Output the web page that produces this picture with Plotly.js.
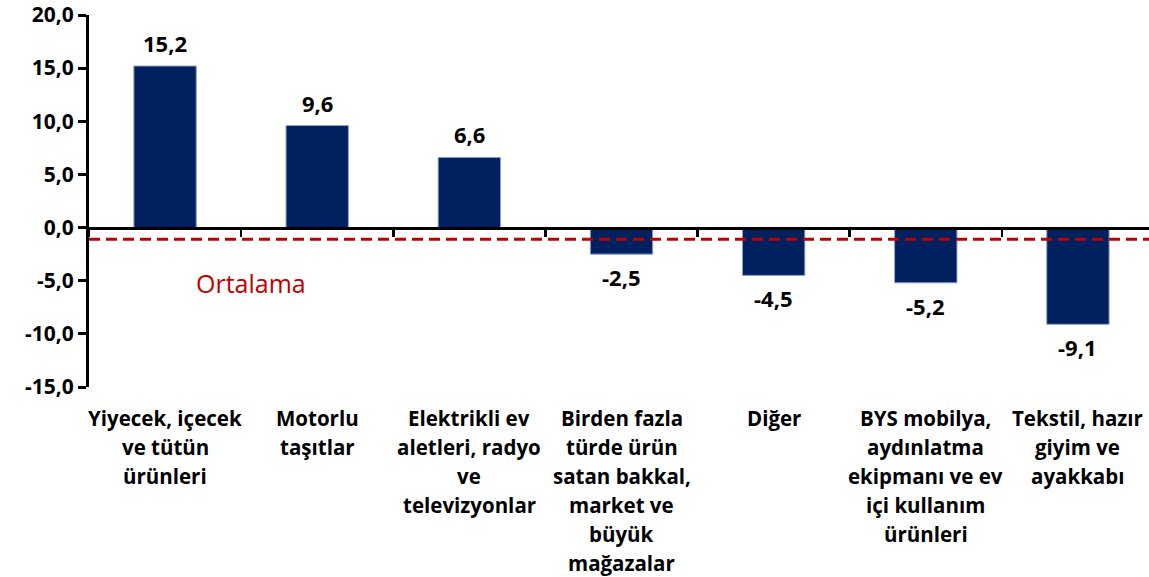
<!DOCTYPE html>
<html><head><meta charset="utf-8">
<script src="https://cdn.plot.ly/plotly-3.0.1.min.js"></script>
<style>html,body{margin:0;padding:0;overflow:hidden;background:#fff}</style>
</head><body><div id="chart" style="width:1154px;height:577px"></div>
<script>
// ---- data ----
const categoryLines = [
  ["Yiyecek, içecek", "ve tütün", "ürünleri"],
  ["Motorlu", "taşıtlar"],
  ["Elektrikli ev", "aletleri, radyo", "ve", "televizyonlar"],
  ["Birden fazla", "türde ürün", "satan bakkal,", "market ve", "büyük", "mağazalar"],
  ["Diğer"],
  ["BYS mobilya,", "aydınlatma", "ekipmanı ve ev", "içi kullanım", "ürünleri"],
  ["Tekstil, hazır", "giyim ve", "ayakkabı"]
];
const categories = categoryLines.map(l => l.join(" "));
const values = [15.2, 9.6, 6.6, -2.5, -4.5, -5.2, -9.1];
const averageValue = -1.1;
const averageLabel = "Ortalama";
const yTickValues = [-15, -10, -5, 0, 5, 10, 15, 20];

// ---- helpers ----
const fmt = v => v.toFixed(1).replace(".", ",");
const FONT = "'Open Sans', Lato, sans-serif";
const yMin = -15, yMax = 20;

const traces = [
  {
    type: "bar", x: categories, y: values,
    marker: {color: "#002060", line: {color: "#8fa2c4", width: 1}},
    hoverinfo: "skip", xaxis: "x", yaxis: "y"
  },
  {
    type: "scatter", mode: "none", x: categories, y: values,
    xaxis: "x2", yaxis: "y", hoverinfo: "skip", showlegend: false
  }
];

const annotations = [];
values.forEach((v, i) => {
  annotations.push({
    x: categories[i], y: v, xref: "x", yref: "y",
    text: fmt(v), showarrow: false,
    yanchor: v >= 0 ? "bottom" : "top",
    yshift: v >= 0 ? 6 : -6,
    font: {family: FONT, size: 22, color: "#000", weight: "bold"}
  });
});
categoryLines.forEach((lines, i) => {
  lines.forEach((line, j) => {
    annotations.push({
      x: categories[i], y: 0, xref: "x", yref: "paper",
      text: line, showarrow: false, yanchor: "middle",
      yshift: -31 - 29 * j,
      font: {family: FONT, size: 20.5, color: "#000", weight: "bold"}
    });
  });
});
annotations.push({
  x: 0.565, y: -5.2, xref: "x", yref: "y", text: averageLabel, showarrow: false,
  font: {family: FONT, size: 25, color: "#C00000"}
});

const layout = {
  width: 1154, height: 577,
  margin: {l: 89, r: 0, t: 15, b: 190},
  paper_bgcolor: "#fff", plot_bgcolor: "#fff",
  showlegend: false, bargap: 0.59,
  font: {family: FONT, color: "#000"},
  xaxis: {
    type: "category", range: [-0.5, 6.5], showticklabels: false,
    showline: false, ticks: "", showgrid: false, zeroline: false, fixedrange: true
  },
  xaxis2: {
    type: "category", overlaying: "x", anchor: "free",
    position: (0 - yMin) / (yMax - yMin), side: "bottom",
    range: [-0.5, 6.5], showticklabels: false, showgrid: false, zeroline: false,
    showline: true, linecolor: "#000", linewidth: 3,
    ticks: "outside", tickson: "boundaries", ticklen: 7, tickwidth: 2.5, tickcolor: "#000"
  },
  yaxis: {
    range: [yMin, yMax], tickvals: yTickValues, ticktext: yTickValues.map(fmt),
    showline: true, linecolor: "#000", linewidth: 3,
    ticks: "outside", ticklen: 8, tickwidth: 3, tickcolor: "#000",
    showgrid: false, zeroline: false,
    tickfont: {family: FONT, size: 21, color: "#000", weight: "bold"}
  },
  shapes: [{
    type: "line", xref: "paper", yref: "y", x0: 0, x1: 1, y0: averageValue, y1: averageValue,
    line: {color: "#C00000", width: 3, dash: "11px,6px"}, layer: "above"
  }],
  annotations: annotations
};

Plotly.newPlot("chart", traces, layout, {displayModeBar: false, staticPlot: true});
</script></body></html>
